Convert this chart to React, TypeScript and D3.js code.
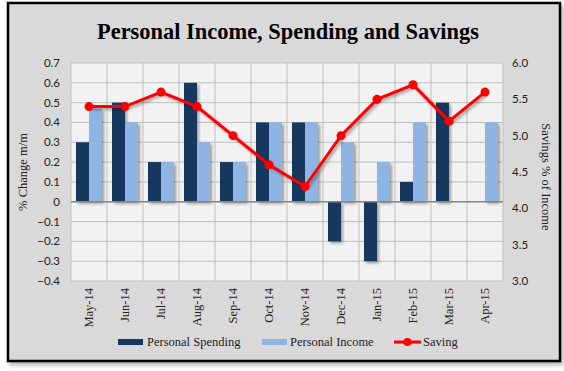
import React from 'react';
import * as d3 from 'd3';

const months = ['May-14', 'Jun-14', 'Jul-14', 'Aug-14', 'Sep-14', 'Oct-14', 'Nov-14', 'Dec-14', 'Jan-15', 'Feb-15', 'Mar-15', 'Apr-15'];
const spending = [0.3, 0.5, 0.2, 0.6, 0.2, 0.4, 0.4, -0.2, -0.3, 0.1, 0.5, 0];
const income = [0.47, 0.4, 0.2, 0.3, 0.2, 0.4, 0.4, 0.3, 0.2, 0.4, 0, 0.4];
const saving = [5.4, 5.4, 5.6, 5.4, 5.0, 4.6, 4.3, 5.0, 5.5, 5.7, 5.2, 5.6];
const leftTicks = [0.7, 0.6, 0.5, 0.4, 0.3, 0.2, 0.1, 0, -0.1, -0.2, -0.3, -0.4];
const rightTicks = [6.0, 5.5, 5.0, 4.5, 4.0, 3.5, 3.0];

const W = 564;
const H = 371;
const plot = { left: 71, right: 503, top: 63, bottom: 281 };

const DARK = '#17375e';
const LIGHT = '#8db4e2';
const RED = '#ff0000';
const serif = '"Liberation Serif", "DejaVu Serif", serif';
const sans = 'Lato, "Liberation Sans", sans-serif';

export default function App() {
  const x = d3.scaleBand<string>().domain(months).range([plot.left, plot.right]);
  const inner = d3.scaleBand<string>().domain(['s', 'i']).range([5, x.bandwidth() - 5]);
  const y = d3.scaleLinear().domain([-0.4, 0.7]).range([plot.bottom, plot.top]);
  const y2 = d3.scaleLinear().domain([3, 6]).range([plot.bottom, plot.top]);

  const line = d3.line<number>()
    .x((_, i) => (x(months[i]) as number) + x.bandwidth() / 2)
    .y(d => y2(d));

  const bar = (v: number, i: number, key: string, color: string) => {
    if (v === 0) return null;
    const bx = (x(months[i]) as number) + (inner(key) as number);
    const top = Math.min(y(v), y(0));
    return (
      <rect key={key + i} x={bx} y={top} width={inner.bandwidth()} height={Math.abs(y(v) - y(0))}
        fill={color} filter="url(#shadow)" />
    );
  };

  return (
    <svg width={W} height={H} style={{ position: 'absolute', left: 0, top: 0 }}>
      <defs>
        <filter id="shadow" x="-30%" y="-10%" width="160%" height="130%">
          <feDropShadow dx="2" dy="2" stdDeviation="1.5" floodColor="#000" floodOpacity="0.35" />
        </filter>
        <filter id="frameShadow" x="-5%" y="-5%" width="110%" height="110%">
          <feDropShadow dx="2" dy="3" stdDeviation="2" floodColor="#000" floodOpacity="0.3" />
        </filter>
      </defs>
      <rect x={0} y={0} width={W} height={H} fill="#fff" />
      <rect x={8} y={3} width={552} height={358} fill="#d9d9d9" stroke="#000" strokeWidth={2.5}
        filter="url(#frameShadow)" />

      <text x={288} y={39} textAnchor="middle" fontFamily={serif} fontWeight="bold" fontSize={22.5}
        textLength={382} lengthAdjust="spacingAndGlyphs" fill="#000">Personal Income, Spending and Savings</text>

      <rect x={plot.left} y={plot.top} width={plot.right - plot.left} height={plot.bottom - plot.top} fill="#f2f2f2" />
      {leftTicks.map(t => (
        <line key={'h' + t} x1={plot.left} x2={plot.right} y1={y(t)} y2={y(t)} stroke="#bfbfbf" strokeWidth={1} />
      ))}
      {months.map(m => (
        <line key={'v' + m} x1={(x(m) as number)} x2={(x(m) as number)} y1={plot.top} y2={plot.bottom}
          stroke="#bfbfbf" strokeWidth={1} />
      ))}
      <line x1={plot.right} x2={plot.right} y1={plot.top} y2={plot.bottom} stroke="#bfbfbf" />

      {spending.map((v, i) => bar(v, i, 's', DARK))}
      {income.map((v, i) => bar(v, i, 'i', LIGHT))}

      <line x1={plot.left} x2={plot.right} y1={y(0)} y2={y(0)} stroke="#868686" strokeWidth={1.5} />

      <path d={line(saving) as string} fill="none" stroke={RED} strokeWidth={3} filter="url(#shadow)" />
      {saving.map((v, i) => (
        <circle key={'c' + i} cx={(x(months[i]) as number) + x.bandwidth() / 2} cy={y2(v)} r={4.5} fill={RED} />
      ))}

      {leftTicks.map(t => (
        <text key={'lt' + t} x={60} y={y(t) + 4} textAnchor="end" fontFamily={sans} fontSize={11.5} fill="#222">
          {t === 0 ? '0' : d3.format('.1f')(t)}
        </text>
      ))}
      {rightTicks.map(t => (
        <text key={'rt' + t} x={512} y={y2(t) + 4} textAnchor="start" fontFamily={sans} fontSize={11.5} fill="#222">
          {d3.format('.1f')(t)}
        </text>
      ))}

      {months.map(m => {
        const cx = (x(m) as number) + x.bandwidth() / 2;
        return (
          <text key={'xl' + m} transform={`translate(${cx + 4},288) rotate(-90)`} textAnchor="end"
            fontFamily={serif} fontSize={12.5} fill="#222">{m}</text>
        );
      })}

      <text transform={`translate(27,${(plot.top + plot.bottom) / 2}) rotate(-90)`} textAnchor="middle"
        fontFamily={serif} fontSize={12.5} fill="#222">% Change m/m</text>
      <text transform={`translate(542,${(plot.top + plot.bottom) / 2 + 5}) rotate(90)`} textAnchor="middle"
        fontFamily={serif} fontSize={12.5} fill="#222">Savings % of Income</text>

      <g fontFamily={serif} fontSize={12.5} fill="#222">
        <rect x={118} y={339} width={25} height={6} fill={DARK} />
        <text x={147} y={346}>Personal Spending</text>
        <rect x={262} y={339} width={25} height={6} fill={LIGHT} />
        <text x={290} y={346}>Personal Income</text>
        <line x1={394} x2={421} y1={342} y2={342} stroke={RED} strokeWidth={3} />
        <circle cx={407.5} cy={342} r={4} fill={RED} />
        <text x={423} y={346}>Saving</text>
      </g>
    </svg>
  );
}
